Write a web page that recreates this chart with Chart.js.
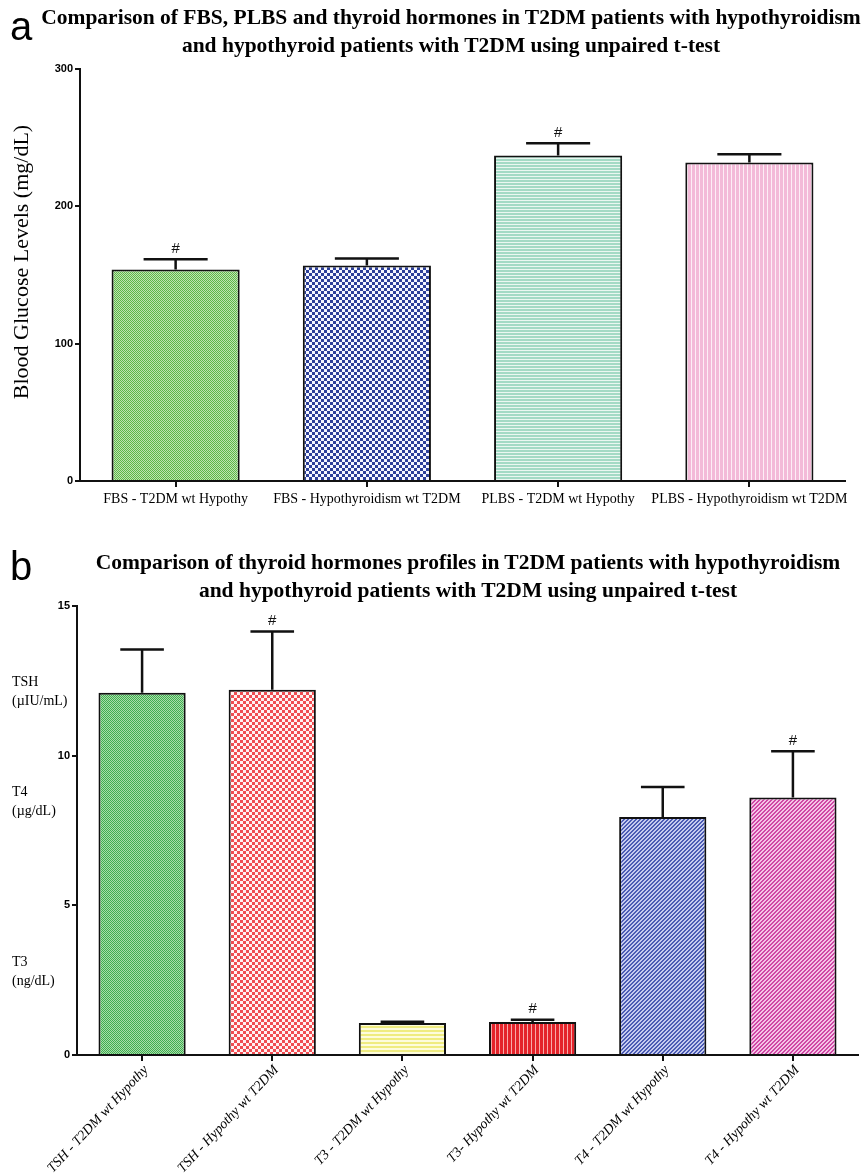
<!DOCTYPE html>
<html>
<head>
<meta charset="utf-8">
<script src="https://cdn.jsdelivr.net/npm/chart.js@4"></script>
<style>
  html,body{margin:0;padding:0;background:#fff;}
  #wrap{position:relative;width:864px;height:1175px;overflow:hidden;background:#fff;}
  canvas{position:absolute;left:0;}
  .panel{position:absolute;font-family:"Liberation Sans",Arial,sans-serif;font-size:40px;color:#000;line-height:1;}
  .title{position:absolute;font-family:"Liberation Serif","Times New Roman",serif;font-weight:bold;font-size:21.5px;line-height:28px;text-align:center;color:#000;white-space:nowrap;}
  .ytitle{position:absolute;font-family:"Liberation Serif","Times New Roman",serif;font-size:22px;color:#000;white-space:nowrap;transform:translate(-50%,-50%) rotate(-90deg);}
  .ulab{position:absolute;font-family:"Liberation Serif","Times New Roman",serif;font-size:14px;line-height:19px;color:#000;white-space:nowrap;}
</style>
</head>
<body>
<div id="wrap">
  <canvas id="ca" width="864" height="530" style="top:0"></canvas>
  <canvas id="cb" width="864" height="645" style="top:530px"></canvas>
  <div class="panel" style="left:10px;top:6px;">a</div>
  <div class="title" style="left:40px;width:822px;top:3px;">Comparison of FBS, PLBS and thyroid hormones in T2DM patients with hypothyroidism<br>and hypothyroid patients with T2DM using unpaired t-test</div>
  <div class="ytitle" style="left:21px;top:262px;">Blood Glucose Levels (mg/dL)</div>
  <div class="panel" style="left:10px;top:546px;">b</div>
  <div class="title" style="left:68px;width:800px;top:548px;">Comparison of thyroid hormones profiles in T2DM patients with hypothyroidism<br>and hypothyroid patients with T2DM using unpaired t-test</div>
  <div class="ulab" style="left:12px;top:672px;">TSH<br>(µIU/mL)</div>
  <div class="ulab" style="left:12px;top:782px;">T4<br>(µg/dL)</div>
  <div class="ulab" style="left:12px;top:952px;">T3<br>(ng/dL)</div>
</div>
<script>
// ---------- Data ----------
const categoriesA = ["FBS - T2DM wt Hypothy", "FBS - Hypothyroidism wt T2DM", "PLBS - T2DM wt Hypothy", "PLBS - Hypothyroidism wt T2DM"];
const meansA = [154, 157, 237, 232];
const errorsA = [7.5, 5, 9, 6];
const signifA = [true, false, true, false];
const ticksA = [0, 100, 200, 300];

const categoriesB = ["TSH - T2DM wt Hypothy", "TSH - Hypothy wt T2DM", "T3 - T2DM wt Hypothy", "T3- Hypothy wt T2DM", "T4 - T2DM wt Hypothy", "T4 - Hypothy wt T2DM"];
const meansB = [12.1, 12.2, 1.07, 1.1, 7.95, 8.6];
const errorsB = [1.45, 1.95, 0.04, 0.08, 1.0, 1.55];
const signifB = [false, true, false, true, false, true];
const ticksB = [0, 5, 10, 15];

// ---------- Patterns ----------
function pat(w, h, fn) {
  const c = document.createElement('canvas');
  c.width = w; c.height = h;
  const g = c.getContext('2d');
  for (let y = 0; y < h; y++) for (let x = 0; x < w; x++) {
    g.fillStyle = fn(x, y);
    g.fillRect(x, y, 1, 1);
  }
  return document.getElementById('ca').getContext('2d').createPattern(c, 'repeat');
}
const checker = (a, b, s) => pat(2 * s, 2 * s, (x, y) => ((Math.floor(x / s) + Math.floor(y / s)) % 2 === 0 ? a : b));
const hstripe = (a, b, n, m) => pat(1, n + m, (x, y) => (y < n ? a : b));
const vstripe = (a, b, n, m) => pat(n + m, 1, (x, y) => (x < n ? a : b));
const diag = (a, b) => pat(4, 4, (x, y) => ((x + y) % 4 < 2 ? a : b));

const fillsA = [
  checker('#5cb848', '#bfe3b2', 1),
  checker('#2c3f99', '#f4f6ff', 3),
  hstripe('#a3dac5', '#eaf7f1', 2, 1),
  vstripe('#f3bad8', '#fdeef6', 3, 1)
];
const fillsB = [
  checker('#3fae50', '#a9dcaa', 1),
  checker('#f04d52', '#fff2f2', 3),
  hstripe('#efec80', '#fdfcdc', 2, 2),
  vstripe('#e4232a', '#f7a9a9', 3, 1),
  diag('#4b5bb3', '#c5cbef'),
  diag('#cf48a5', '#f5c4e7')
];

// ---------- Error bar / significance plugin ----------
const errPlugin = {
  id: 'errbars',
  afterDatasetsDraw(chart, args, opts) {
    const { ctx } = chart;
    const y = chart.scales.y;
    const meta = chart.getDatasetMeta(0);
    ctx.save();
    ctx.strokeStyle = '#111';
    ctx.lineWidth = 2.5;
    opts.means.forEach((m, i) => {
      const bar = meta.data[i];
      const xc = bar.x, w = bar.width;
      const y0 = y.getPixelForValue(m);
      const y1 = y.getPixelForValue(m + opts.errors[i]);
      ctx.beginPath();
      ctx.moveTo(xc, y0); ctx.lineTo(xc, y1);
      ctx.moveTo(xc - w / 4, y1); ctx.lineTo(xc + w / 4, y1);
      ctx.stroke();
      if (opts.signif[i]) {
        ctx.fillStyle = '#111';
        ctx.font = '15px "Liberation Sans", Arial, sans-serif';
        ctx.textAlign = 'center';
        ctx.textBaseline = 'bottom';
        ctx.fillText('#', xc, y1 - 3);
      }
    });
    ctx.restore();
  }
};

function makeChart(id, labels, means, errors, signif, fills, yMax, tickVals, pad, yWidth, xHeight, xTickOpts) {
  return new Chart(document.getElementById(id), {
    type: 'bar',
    data: {
      labels: labels,
      datasets: [{
        data: means,
        backgroundColor: fills,
        borderColor: '#111',
        borderWidth: 2,
        categoryPercentage: 1,
        barPercentage: 0.67
      }]
    },
    options: {
      responsive: false,
      animation: false,
      layout: { padding: pad },
      plugins: {
        legend: { display: false },
        tooltip: { enabled: false },
        errbars: { means: means, errors: errors, signif: signif }
      },
      scales: {
        x: {
          offset: true,
          grid: { offset: false, drawOnChartArea: false, drawTicks: true, tickLength: 6, color: '#111', lineWidth: 2 },
          border: { color: '#111', width: 2 },
          ticks: Object.assign({ color: '#000', autoSkip: false }, xTickOpts),
          afterFit(s) { s.height = xHeight; }
        },
        y: {
          min: 0, max: yMax,
          afterBuildTicks(s) { s.ticks = tickVals.map(v => ({ value: v })); },
          grid: { drawOnChartArea: false, drawTicks: true, tickLength: 5, color: '#111', lineWidth: 2 },
          border: { color: '#111', width: 2 },
          ticks: { color: '#000', padding: 2, font: { family: '"Liberation Sans", Arial, sans-serif', size: 11, weight: 'bold' } },
          afterFit(s) { s.width = yWidth; }
        }
      }
    },
    plugins: [errPlugin]
  });
}

makeChart('ca', categoriesA, meansA, errorsA, signifA, fillsA, 300, ticksA,
  { top: 69, right: 19, left: 0, bottom: 0 }, 80, 49,
  { maxRotation: 0, minRotation: 0, padding: 4, font: { family: '"Liberation Serif", "Times New Roman", serif', size: 14 } });

makeChart('cb', categoriesB, meansB, errorsB, signifB, fillsB, 15, ticksB,
  { top: 76, right: 6, left: 0, bottom: 0 }, 77, 120,
  { maxRotation: 47, minRotation: 47, padding: 1, labelOffset: 4, font: { family: '"Liberation Serif", "Times New Roman", serif', size: 14, style: 'italic' } });
</script>
</body>
</html>
